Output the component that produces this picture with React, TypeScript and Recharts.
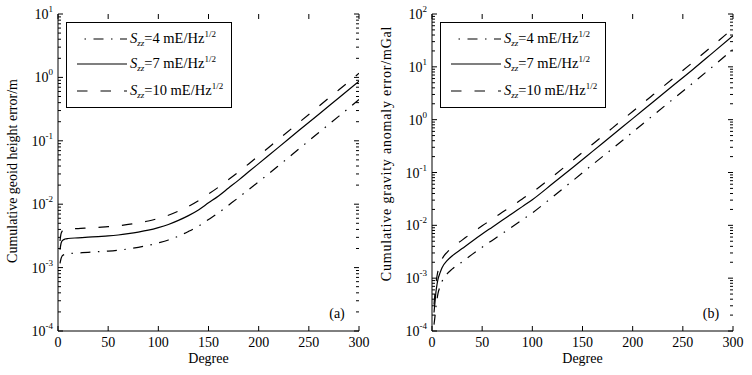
import React from 'react';
import { LineChart, Line, XAxis, YAxis, Legend } from 'recharts';

const FONT = '"Liberation Serif", "Times New Roman", Times, serif';

// ---- Panel (a): cumulative geoid height error (m) ----
const geoidDegrees = [2, 3, 4, 5, 7, 10, 20, 30, 40, 50, 60, 70, 80, 90, 100, 110, 120, 130, 140, 150, 160, 170, 180, 190, 200, 220, 240, 260, 280, 300];
const geoidS4 = [0.00117, 0.00138, 0.00151, 0.00157, 0.00162, 0.00166, 0.0017, 0.00174, 0.00178, 0.00182, 0.00188, 0.00197, 0.00209, 0.00224, 0.00245, 0.00272, 0.00313, 0.00372, 0.00452, 0.00575, 0.00733, 0.00966, 0.01274, 0.017, 0.0226, 0.0407, 0.0741, 0.135, 0.245, 0.447];
const geoidS7 = [0.00191, 0.0024, 0.00263, 0.00272, 0.00282, 0.00288, 0.00295, 0.00302, 0.00309, 0.00316, 0.00327, 0.00343, 0.00363, 0.00389, 0.00427, 0.00479, 0.00556, 0.00661, 0.00813, 0.0105, 0.0135, 0.018, 0.024, 0.0324, 0.0437, 0.0794, 0.145, 0.263, 0.479, 0.871];
const geoidS10 = [0.00263, 0.00339, 0.00372, 0.00385, 0.00398, 0.00407, 0.00412, 0.00422, 0.00432, 0.00442, 0.00457, 0.00479, 0.00507, 0.00543, 0.00596, 0.00668, 0.00776, 0.00923, 0.01135, 0.01445, 0.0186, 0.0245, 0.0324, 0.0432, 0.0582, 0.106, 0.193, 0.351, 0.638, 1.16];

// ---- Panel (b): cumulative gravity anomaly error (mGal) ----
const gravityDegrees = [2, 3, 4, 5, 6, 8, 10, 15, 20, 30, 40, 50, 60, 70, 80, 90, 100, 120, 140, 160, 180, 200, 220, 240, 260, 280, 300];
const gravityS4 = [1.32e-4, 1.91e-4, 2.95e-4, 3.98e-4, 5.13e-4, 6.92e-4, 8.71e-4, 1.2e-3, 1.48e-3, 2.04e-3, 2.82e-3, 3.85e-3, 5.19e-3, 7.0e-3, 9.44e-3, 0.01274, 0.0172, 0.0343, 0.0692, 0.141, 0.285, 0.582, 1.19, 2.43, 4.95, 10.2, 21.4];
const gravityS7 = [2.24e-4, 3.55e-4, 5.62e-4, 7.59e-4, 9.55e-4, 1.26e-3, 1.58e-3, 2.14e-3, 2.63e-3, 3.63e-3, 5.01e-3, 6.84e-3, 9.23e-3, 0.01245, 0.0168, 0.0226, 0.0305, 0.061, 0.123, 0.251, 0.513, 1.047, 2.14, 4.37, 8.91, 18.6, 38.9];
const gravityS10 = [3.16e-4, 5.25e-4, 8.13e-4, 1.1e-3, 1.38e-3, 1.82e-3, 2.29e-3, 3.09e-3, 3.8e-3, 5.25e-3, 7.24e-3, 9.77e-3, 0.0132, 0.0176, 0.0234, 0.0316, 0.0422, 0.0832, 0.168, 0.343, 0.7, 1.43, 2.92, 5.96, 12.2, 25.4, 53.1];

// ---- axes / labels ----
const degreeTicks = [0, 50, 100, 150, 200, 250, 300];
const geoidDecades = [-4, -3, -2, -1, 0, 1];
const gravityDecades = [-4, -3, -2, -1, 0, 1, 2];
const noiseLevels = ['4', '7', '10'];
const seriesKeys = ['s4', 's7', 's10'];
const dashStyles: Record<string, string | undefined> = { s4: '10 7.5 1.5 7.5', s7: undefined, s10: '10.5 13' };
const noiseUnit = 'mE/Hz';
const xTitle = 'Degree';
const geoidTitle = 'Cumulative geoid height error/m';
const gravityTitle = 'Cumulative gravity anomaly error/mGal';

const PW = 301;
const PH = 317;

function logTicks(decades: number[]) {
  const out: number[] = [];
  for (let i = 0; i < decades.length - 1; i++) {
    for (let m = 1; m <= 9; m++) out.push(Number((m * Math.pow(10, decades[i])).toPrecision(6)));
  }
  out.push(Math.pow(10, decades[decades.length - 1]));
  return out;
}

function buildData(deg: number[], a: number[], b: number[], c: number[]) {
  return deg.map((d, i) => ({ deg: d, s4: a[i], s7: b[i], s10: c[i] }));
}

const geoidData = buildData(geoidDegrees, geoidS4, geoidS7, geoidS10);
const gravityData = buildData(gravityDegrees, gravityS4, gravityS7, gravityS10);

const XTick = (p: any) => {
  const { x, y, payload } = p;
  return (
    <g>
      <line x1={x} x2={x} y1={y} y2={y - 5} stroke="#000" strokeWidth={1} />
      <line x1={x} x2={x} y1={y - PH} y2={y - PH + 5} stroke="#000" strokeWidth={1} />
      <text x={x} y={y + 16} textAnchor="middle" fontFamily={FONT} fontSize={14} fill="#000">
        {payload.value}
      </text>
    </g>
  );
};

const YTick = (p: any) => {
  const { x, y, payload } = p;
  const v = payload.value;
  const lg = Math.log10(v);
  const k = Math.round(lg);
  const major = Math.abs(lg - k) < 1e-6;
  const len = major ? 5 : 3;
  return (
    <g>
      <line x1={x} x2={x + len} y1={y} y2={y} stroke="#000" strokeWidth={1} />
      <line x1={x + PW} x2={x + PW - len} y1={y} y2={y} stroke="#000" strokeWidth={1} />
      {major && (
        <text x={x - 5} y={y + 5} textAnchor="end" fontFamily={FONT} fontSize={14} fill="#000">
          10
          <tspan dy={-7} fontSize={9}>{String(k)}</tspan>
        </text>
      )}
    </g>
  );
};

function LegendBox() {
  const rowsY = [16, 41, 68];
  return (
    <div
      style={{
        width: 166,
        height: 86,
        border: '1px solid #000',
        boxSizing: 'border-box',
        background: '#fff',
        position: 'relative',
        fontFamily: FONT,
        color: '#000',
      }}
    >
      {seriesKeys.map((k, i) => (
        <div
          key={k}
          style={{ position: 'absolute', left: 0, top: rowsY[i] - 13, height: 26, display: 'flex', alignItems: 'center' }}
        >
          <svg width={63} height={26} style={{ display: 'block' }}>
            <line x1={10} x2={60} y1={13} y2={13} stroke="#000" strokeWidth={1.2} strokeDasharray={dashStyles[k]} strokeDashoffset={k === 's4' ? 10 : 0} />
          </svg>
          <span style={{ fontSize: 14.5, whiteSpace: 'nowrap', lineHeight: '26px' }}>
            <i>S</i>
            <i style={{ fontSize: 9, position: 'relative', top: 3 }}>zz</i>={noiseLevels[i]} {noiseUnit}
            <span style={{ fontSize: 9, position: 'relative', top: -6 }}>1/2</span>
          </span>
        </div>
      ))}
    </div>
  );
}

function Panel(props: {
  data: any[];
  decades: number[];
  title: string;
  tag: string;
  pageLeft: number;
  marginLeft: number;
  marginRight: number;
  legendLeft: number;
  titleDy: number;
  titleSpacing: number;
}) {
  const { data, decades, title, tag, pageLeft, marginLeft, marginRight, legendLeft, titleDy, titleSpacing } = props;
  const ticks = logTicks(decades);
  const domain = [Math.pow(10, decades[0]), Math.pow(10, decades[decades.length - 1])];

  const yLabel = (lp: any) => {
    const vb = lp.viewBox || { x: 0, y: 0, width: 0, height: 0 };
    const cx = vb.x + 4;
    const cy = vb.y + vb.height / 2 + titleDy;
    return (
      <text
        x={cx}
        y={cy}
        transform={`rotate(-90 ${cx} ${cy})`}
        textAnchor="middle"
        dominantBaseline="central"
        fontFamily={FONT}
        fontSize={14}
        letterSpacing={titleSpacing}
        fill="#000"
      >
        {title}
      </text>
    );
  };

  const xLabel = (lp: any) => {
    const vb = lp.viewBox || { x: 0, y: 0, width: 0, height: 0 };
    return (
      <g>
        <text x={vb.x + vb.width / 2} y={vb.y + 27} textAnchor="middle" dominantBaseline="central" fontFamily={FONT} fontSize={14} fill="#000">
          {xTitle}
        </text>
        <text x={vb.x + vb.width - 22} y={vb.y - 18} textAnchor="middle" dominantBaseline="central" fontFamily={FONT} fontSize={14} fill="#000">
          {tag}
        </text>
      </g>
    );
  };

  return (
    <div style={{ position: 'absolute', left: pageLeft, top: 0, width: 376, height: 375 }}>
      <LineChart width={376} height={375} data={data} margin={{ top: 14, right: marginRight, bottom: 14, left: marginLeft }}>
        <XAxis
          dataKey="deg"
          type="number"
          domain={[0, 300]}
          ticks={degreeTicks}
          interval={0}
          tickSize={0}
          tickMargin={0}
          tickLine={false}
          height={30}
          axisLine={{ stroke: '#000' }}
          tick={XTick}
          label={xLabel}
          allowDataOverflow
        />
        <XAxis xAxisId="top" orientation="top" type="number" domain={[0, 300]} height={0} tick={false} tickLine={false} axisLine={{ stroke: '#000' }} allowDataOverflow />
        <YAxis
          scale="log"
          type="number"
          domain={domain}
          ticks={ticks}
          interval={0}
          tickSize={0}
          tickMargin={0}
          tickLine={false}
          width={50}
          axisLine={{ stroke: '#000' }}
          tick={YTick}
          label={yLabel}
          allowDataOverflow
        />
        <YAxis yAxisId="right" orientation="right" scale="log" type="number" domain={domain} width={0} tick={false} tickLine={false} axisLine={{ stroke: '#000' }} allowDataOverflow />
        <Legend
          layout="vertical"
          align="center"
          verticalAlign="middle"
          wrapperStyle={{ left: legendLeft, top: 22, width: 166, height: 86 }}
          content={() => <LegendBox />}
        />
        {seriesKeys.map((k) => (
          <Line
            key={k}
            type="monotone"
            dataKey={k}
            stroke="#000"
            strokeWidth={1.2}
            strokeDasharray={dashStyles[k]}
            dot={false}
            activeDot={false}
            isAnimationActive={false}
            legendType="none"
          />
        ))}
      </LineChart>
    </div>
  );
}

export default function App() {
  return (
    <div style={{ position: 'absolute', left: 0, top: 0, width: 752, height: 375, background: '#fff' }}>
      <Panel data={geoidData} decades={geoidDecades} title={geoidTitle} tag="(a)" pageLeft={0} marginLeft={8} marginRight={17} legendLeft={66} titleDy={-1.5} titleSpacing={0} />
      <Panel data={gravityData} decades={gravityDecades} title={gravityTitle} tag="(b)" pageLeft={376} marginLeft={6} marginRight={19} legendLeft={64} titleDy={-19} titleSpacing={0.8} />
    </div>
  );
}
